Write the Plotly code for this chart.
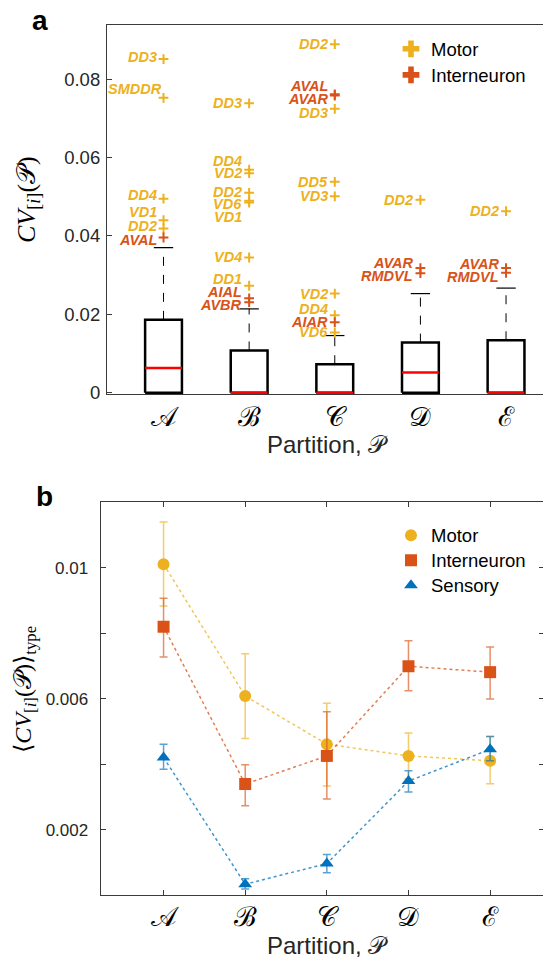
import plotly.graph_objects as go

# ---------------- data ----------------
partitions = ["𝒜", "ℬ", "𝒞", "𝒟", "ℰ"]
pos = [1, 2, 3, 4, 5]

# panel a: box plot summary per partition
box_q1 = [0.0, 0.0, 0.0, 0.0, 0.0]
box_median = [0.0063, 0.0, 0.0, 0.0052, 0.0]
box_q3 = [0.0186, 0.0108, 0.0073, 0.0128, 0.0134]
box_whisker_hi = [0.0370, 0.0214, 0.0146, 0.0253, 0.0267]

# panel a: outliers
out_part = [1, 1, 1, 1, 1, 1,
            2, 2, 2, 2, 2, 2, 2, 2, 2, 2,
            3, 3, 3, 3, 3, 3, 3, 3, 3, 3,
            4, 4, 4,
            5, 5, 5]
out_val = [0.0851, 0.0752, 0.0495, 0.0440, 0.0419, 0.0396,
           0.0738, 0.0569, 0.0560, 0.0510, 0.0490, 0.0485, 0.0345, 0.0273, 0.0241, 0.0231,
           0.0889, 0.0761, 0.0758, 0.0724, 0.0538, 0.0501, 0.0253, 0.0198, 0.0180, 0.0154,
           0.0492, 0.0318, 0.0305,
           0.0463, 0.0318, 0.0306]
out_name = ["DD3", "SMDDR", "DD4", "VD1", "DD2", "AVAL",
            "DD3", "DD4", "VD2", "DD2", "VD6", "VD1", "VD4", "DD1", "AIAL", "AVBR",
            "DD2", "AVAL", "AVAR", "DD3", "DD5", "VD3", "VD2", "DD4", "AIAR", "VD6",
            "DD2", "AVAR", "RMDVL",
            "DD2", "AVAR", "RMDVL"]
out_type = ["M", "M", "M", "M", "M", "I",
            "M", "M", "M", "M", "M", "M", "M", "M", "I", "I",
            "M", "I", "I", "M", "M", "M", "M", "M", "I", "M",
            "M", "I", "I",
            "M", "I", "I"]
# label placement (pixel offsets from the marker) -- layout only
label_dy = [2, 9, 4, 8, 2, -3,
            0, 9, 0, 1, -3, -14, 0, 7, 6, -3,
            0, 8, -3, -4, 0, 0, 0, 6, 0, 0,
            0, 5, -3,
            0, 4, -4]
label_dx = [-5, 0, -5, -5, -5, -5,
            -5, -5, -5, -5, -5, -5, -5, -5, -5, -5,
            -5, -5, -5, -5, -5, -5, -5, -5, -5, -5,
            -5, -5, -5,
            -5, -5, -5]

# panel b: mean CV per neuron type, with error bounds
motor_mean = [0.01011, 0.00608, 0.00461, 0.00425, 0.00410]
motor_hi = [0.01140, 0.00737, 0.00586, 0.00495, 0.00484]
motor_lo = [0.00883, 0.00478, 0.00333, 0.00355, 0.00340]
inter_mean = [0.00820, 0.00339, 0.00425, 0.00699, 0.00681]
inter_hi = [0.00907, 0.00398, 0.00560, 0.00777, 0.00758]
inter_lo = [0.00727, 0.00273, 0.00293, 0.00624, 0.00599]
sens_mean = [0.00420, 0.00033, 0.00096, 0.00348, 0.00445]
sens_hi = [0.00461, 0.00050, 0.00124, 0.00380, 0.00484]
sens_lo = [0.00384, 0.00018, 0.00068, 0.00315, 0.00410]

# ---------------- style ----------------
OFF = 8                     # default page margin of the html body
W, H = 551 - OFF, 962 - OFF
C_MOTOR = "#EDB120"
C_INTER = "#D95319"
C_SENS = "#0072BD"
AX = "#3a3a3a"
TXT = "#262626"
SANS = "Liberation Sans, Arial, sans-serif"
SERIF = "Liberation Serif, DejaVu Serif, serif"
BW = 0.215   # half box width
CW = 0.113   # half cap width


def px(xp):
    return (xp - OFF) / W


def py(yp):
    return 1 - (yp - OFF) / H


fig = go.Figure()

# ---- panel a: boxes ----
bx, by, wx, wy, cx, cy, mx, my = [], [], [], [], [], [], [], []
for p, lo, hi, md, wh in zip(pos, box_q1, box_q3, box_median, box_whisker_hi):
    bx += [p - BW, p + BW, p + BW, p - BW, p - BW, None]
    by += [lo, lo, hi, hi, lo, None]
    wx += [p, p, None]
    wy += [hi, wh, None]
    cx += [p - CW, p + CW, None]
    cy += [wh, wh, None]
    mx += [p - BW, p + BW, None]
    my += [md, md, None]

fig.add_trace(go.Scatter(x=wx, y=wy, mode="lines", line=dict(color="black", width=1, dash="dash"),
                         showlegend=False, hoverinfo="skip", xaxis="x", yaxis="y"))
fig.add_trace(go.Scatter(x=cx, y=cy, mode="lines", line=dict(color="black", width=1.2),
                         showlegend=False, hoverinfo="skip", xaxis="x", yaxis="y"))
fig.add_trace(go.Scatter(x=bx, y=by, mode="lines", line=dict(color="black", width=2.5),
                         showlegend=False, hoverinfo="skip", xaxis="x", yaxis="y"))
fig.add_trace(go.Scatter(x=mx, y=my, mode="lines", line=dict(color="red", width=2.5),
                         showlegend=False, hoverinfo="skip", xaxis="x", yaxis="y"))

# ---- panel a: outliers ----
for t, col in (("M", C_MOTOR), ("I", C_INTER)):
    xs = [p for p, tt in zip(out_part, out_type) if tt == t]
    ys = [v for v, tt in zip(out_val, out_type) if tt == t]
    fig.add_trace(go.Scatter(x=xs, y=ys, mode="markers",
                             marker=dict(symbol="cross-thin", size=7, line=dict(color=col, width=2)),
                             showlegend=False, xaxis="x", yaxis="y"))

for p, v, n, t, dy, dx in zip(out_part, out_val, out_name, out_type, label_dy, label_dx):
    fig.add_annotation(x=p, y=v, xref="x", yref="y", text="<b><i>%s</i></b>" % n,
                       showarrow=False, xanchor="right", yanchor="middle",
                       xshift=dx, yshift=dy,
                       font=dict(family=SANS, size=14.5, color=C_MOTOR if t == "M" else C_INTER))

# legend-only traces for panel a (one legend box per entry)
for nm, col, lg in (("Motor", C_MOTOR, "legend"), ("Interneuron", C_INTER, "legend2")):
    fig.add_trace(go.Scatter(x=[None], y=[None], mode="markers", name=nm,
                             marker=dict(symbol="cross", size=14, color=col, line=dict(width=0)),
                             xaxis="x", yaxis="y", legend=lg))


# ---- panel b ----
def rgba(hexc, a):
    h = hexc.lstrip("#")
    return "rgba(%d,%d,%d,%.2f)" % (int(h[0:2], 16), int(h[2:4], 16), int(h[4:6], 16), a)


series_b = (("Motor", motor_mean, motor_hi, motor_lo, C_MOTOR, "circle", "legend3"),
            ("Interneuron", inter_mean, inter_hi, inter_lo, C_INTER, "square", "legend4"),
            ("Sensory", sens_mean, sens_hi, sens_lo, C_SENS, "triangle-up", "legend5"))
for name, mean, hi, lo, col, sym, lg in series_b:
    fig.add_trace(go.Scatter(
        x=pos, y=mean, mode="lines+markers", name=name, showlegend=False,
        line=dict(color=rgba(col, 0.75), width=1.5, dash="dot"),
        marker=dict(symbol=sym, size=12, color=col, line=dict(width=0)),
        error_y=dict(type="data", symmetric=False,
                     array=[h - m for h, m in zip(hi, mean)],
                     arrayminus=[m - l for l, m in zip(lo, mean)],
                     color=rgba(col, 0.65), thickness=1.5, width=4),
        xaxis="x2", yaxis="y2"))
for name, mean, hi, lo, col, sym, lg in series_b:
    fig.add_trace(go.Scatter(x=[None], y=[None], mode="markers", name=name,
                             marker=dict(symbol=sym, size=12, color=col, line=dict(width=0)),
                             xaxis="x2", yaxis="y2", legend=lg))

# ---------------- layout ----------------
axis_common = dict(showline=True, linecolor=AX, linewidth=1.2, mirror="ticks", showgrid=False,
                   zeroline=False, ticks="inside", tickcolor=AX, ticklen=5, tickwidth=1,
                   automargin=False)


def leg(xp, yp_top):
    return dict(x=px(xp), y=py(yp_top), xanchor="left", yanchor="top", bgcolor="rgba(0,0,0,0)",
                font=dict(family=SANS, size=18.5, color="black"), borderwidth=0)


fig.update_layout(
    template="none",
    width=W, height=H, margin=dict(l=0, r=0, t=0, b=0, pad=0),
    paper_bgcolor="white", plot_bgcolor="white",
    xaxis=dict(**{**axis_common, "ticks": "", "mirror": True},
               domain=[px(107), px(548)], range=[0.34, 5.49],
               tickmode="array", tickvals=pos, ticktext=partitions, ticklabelstandoff=-2,
               tickfont=dict(family=SERIF, size=27, color="black"), anchor="y"),
    yaxis=dict(**axis_common, domain=[py(394), py(25.3)], range=[-0.0003, 0.0937],
               tickmode="array", tickvals=[0, 0.02, 0.04, 0.06, 0.08],
               ticktext=["0", "0.02", "0.04", "0.06", "0.08"], ticklabelstandoff=2,
               tickfont=dict(family=SANS, size=18.5, color=TXT), anchor="x"),
    xaxis2=dict(**axis_common, domain=[px(100.7), px(544)], range=[0.23, 5.66],
                tickmode="array", tickvals=pos, ticktext=partitions, ticklabelstandoff=-3,
                tickfont=dict(family=SERIF, size=27, color="black"), anchor="y2"),
    yaxis2=dict(**axis_common, domain=[py(895), py(502.3)], range=[0, 0.012],
                tickmode="array", tickvals=[0.002, 0.004, 0.006, 0.008, 0.010],
                ticktext=["0.002", "", "0.006", "", "0.01"], ticklabelstandoff=8,
                tickfont=dict(family=SANS, size=17, color=TXT), anchor="x2"),
    legend=leg(391, 30.3),
    legend2=leg(391, 56.3),
    legend3=leg(391, 516.7),
    legend4=leg(391, 541.7),
    legend5=leg(391, 566.7),
)

# panel letters and axis titles
ann = dict(xref="paper", yref="paper", showarrow=False, xanchor="center", yanchor="middle")
fig.add_annotation(x=px(40), y=py(21), text="<b>a</b>", font=dict(family=SANS, size=28, color="black"), **ann)
fig.add_annotation(x=px(44), y=py(496), text="<b>b</b>", font=dict(family=SANS, size=28, color="black"), **ann)
fig.add_annotation(x=px(327), y=py(444), text="Partition, 𝒫", font=dict(family=SANS, size=24, color=TXT), **ann)
fig.add_annotation(x=px(327), y=py(945), text="Partition, 𝒫", font=dict(family=SANS, size=24, color=TXT), **ann)
fig.add_annotation(x=px(28), y=py(200), textangle=-90, text="<i>CV</i><sub>[<i>i</i>]</sub>(𝒫)",
                   font=dict(family=SERIF, size=26, color="black"), **ann)
fig.add_annotation(x=px(25), y=py(690), textangle=-90,
                   text="⟨<i>CV</i><sub>[<i>i</i>]</sub>(𝒫)⟩<sub>type</sub>",
                   font=dict(family=SERIF, size=24, color="black"), **ann)

fig.write_html("out.html")
